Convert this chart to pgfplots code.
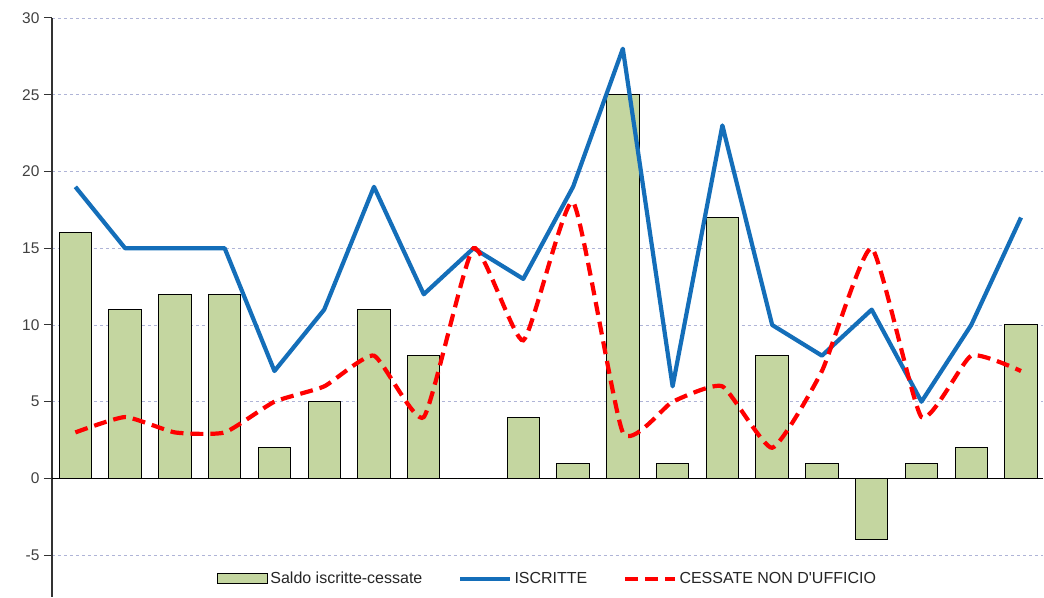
\documentclass[border=0pt]{standalone}
\usepackage{pgfplots}
\pgfplotsset{compat=1.18}
\usepackage{fontspec}
\setmainfont{Liberation Sans}
\definecolor{barfill}{RGB}{196,214,160}
\definecolor{iscblue}{RGB}{20,110,185}
\definecolor{gridc}{RGB}{175,180,215}
\pgfplotsset{
  barleg/.style={legend image code/.code={\draw[##1] (0pt,-5pt) rectangle (50pt,5pt);}},
  lineleg/.style={legend image code/.code={\draw[##1] (0pt,0pt) -- (50pt,0pt);}},
}
\begin{document}
\begin{tikzpicture}
\begin{axis}[
  scale only axis, width=992pt, height=579pt,
  xmin=-0.47, xmax=19.45, ymin=-7.7, ymax=30,
  axis x line=none, axis y line*=left,
  axis line style={black!80, line width=1.2pt},
  ytick={-5,5,10,15,20,25,30},
  extra y ticks={0},
  extra y tick style={grid=major, major grid style={black, solid, line width=1.2pt}},
  ymajorgrids, grid style={gridc, dashed, line width=0.6pt},
  tick align=outside, major tick length=8pt,
  ytick style={black!80, line width=1pt},
  yticklabel style={font=\fontsize{15.5}{18}\selectfont, text=black!75, xshift=-1pt},
  /pgf/number format/assume math mode=true,
  legend columns=3,
  legend style={at={(0.5,0.031)}, anchor=center, draw=none, fill=white,
    font=\fontsize{16}{18}\selectfont, text=black!85,
    /tikz/every even column/.append style={column sep=34pt}},
  legend cell align=left,
]
\addplot[ybar, bar width=0.65, fill=barfill, draw=black, line width=1pt, barleg]
  coordinates {(0,16)(1,11)(2,12)(3,12)(4,2)(5,5)(6,11)(7,8)(8,0)(9,4)
  (10,1)(11,25)(12,1)(13,17)(14,8)(15,1)(16,-4)(17,1)(18,2)(19,10)};
\addlegendentry{Saldo iscritte-cessate}
\addplot[iscblue, line width=4.2pt, line join=round, lineleg]
  coordinates {(0,19)(1,15)(2,15)(3,15)(4,7)(5,11)(6,19)(7,12)(8,15)(9,13)
  (10,19)(11,28)(12,6)(13,23)(14,10)(15,8)(16,11)(17,5)(18,10)(19,17)};
\addlegendentry{ISCRITTE}
\addplot[red, line width=4.2pt, dash pattern=on 13pt off 7pt, smooth, tension=0.3, lineleg]
  coordinates {(0,3)(1,4)(2,3)(3,3)(4,5)(5,6)(6,8)(7,4)(8,15)(9,9)
  (10,18)(11,3)(12,5)(13,6)(14,2)(15,7)(16,15)(17,4)(18,8)(19,7)};
\addlegendentry{CESSATE NON D\textquotesingle UFFICIO}
\end{axis}
\path ([xshift=-52pt,yshift=18pt]current axis.north west);
\end{tikzpicture}
\end{document}
